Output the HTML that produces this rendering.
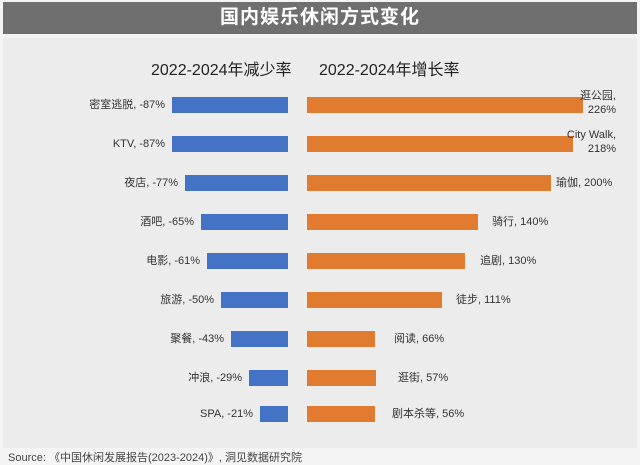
<!DOCTYPE html>
<html><head><meta charset="utf-8"><style>
body{margin:0;width:640px;height:464px;background:#f4f4f4;position:relative;overflow:hidden;font-family:"Liberation Sans","Noto Sans CJK SC",sans-serif;}
.t{position:absolute;left:3px;top:2px;width:634px;height:32px;background:#6f6f6f;color:#fff;font-size:19px;font-weight:bold;text-align:center;line-height:32px;letter-spacing:1px}
.p{position:absolute;left:3px;top:38px;width:634px;height:410px;background:#ececec}
.h{position:absolute;top:56px;font-size:16px;color:#222;}
.b{position:absolute;height:16px;background:#4472c4}
.o{position:absolute;height:16px;background:#e07b30}
.l{position:absolute;font-size:11px;color:#333;white-space:nowrap;line-height:16px}
.s{position:absolute;left:8px;top:449px;font-size:11px;color:#444}
</style></head><body>
<div class="t">国内娱乐休闲方式变化</div>
<div class="p"></div>
<div class="h" style="left:151px">2022-2024年减少率</div>
<div class="h" style="left:319px">2022-2024年增长率</div>

<div class="b" style="left:172px;width:116px;top:97px"></div><div class="l" style="right:475px;top:97px">密室逃脱, -87%</div>
<div class="b" style="left:172px;width:116px;top:136px"></div><div class="l" style="right:475px;top:136px">KTV, -87%</div>
<div class="b" style="left:185px;width:103px;top:175px"></div><div class="l" style="right:462px;top:175px">夜店, -77%</div>
<div class="b" style="left:201px;width:87px;top:214px"></div><div class="l" style="right:446px;top:214px">酒吧, -65%</div>
<div class="b" style="left:207px;width:81px;top:253px"></div><div class="l" style="right:440px;top:253px">电影, -61%</div>
<div class="b" style="left:221px;width:67px;top:292px"></div><div class="l" style="right:426px;top:292px">旅游, -50%</div>
<div class="b" style="left:231px;width:57px;top:331px"></div><div class="l" style="right:416px;top:331px">聚餐, -43%</div>
<div class="b" style="left:249px;width:39px;top:370px"></div><div class="l" style="right:398px;top:370px">冲浪, -29%</div>
<div class="b" style="left:260px;width:28px;top:406px"></div><div class="l" style="right:387px;top:406px">SPA, -21%</div>

<div class="o" style="left:307px;width:276px;top:97px"></div><div class="l" style="right:24px;top:89px;text-align:right;line-height:14px">逛公园,<br>226%</div>
<div class="o" style="left:307px;width:266px;top:136px"></div><div class="l" style="right:24px;top:128px;text-align:right;line-height:14px">City Walk,<br>218%</div>
<div class="o" style="left:307px;width:244px;top:175px"></div><div class="l" style="left:556px;top:175px">瑜伽, 200%</div>
<div class="o" style="left:307px;width:171px;top:214px"></div><div class="l" style="left:492px;top:214px">骑行, 140%</div>
<div class="o" style="left:307px;width:158px;top:253px"></div><div class="l" style="left:480px;top:253px">追剧, 130%</div>
<div class="o" style="left:307px;width:135px;top:292px"></div><div class="l" style="left:456px;top:292px">徒步, 111%</div>
<div class="o" style="left:307px;width:68px;top:331px"></div><div class="l" style="left:394px;top:331px">阅读, 66%</div>
<div class="o" style="left:307px;width:69px;top:370px"></div><div class="l" style="left:398px;top:370px">逛街, 57%</div>
<div class="o" style="left:307px;width:68px;top:406px"></div><div class="l" style="left:392px;top:406px">剧本杀等, 56%</div>

<div class="s">Source: 《中国休闲发展报告(2023-2024)》, 洞见数据研究院</div>
</body></html>
